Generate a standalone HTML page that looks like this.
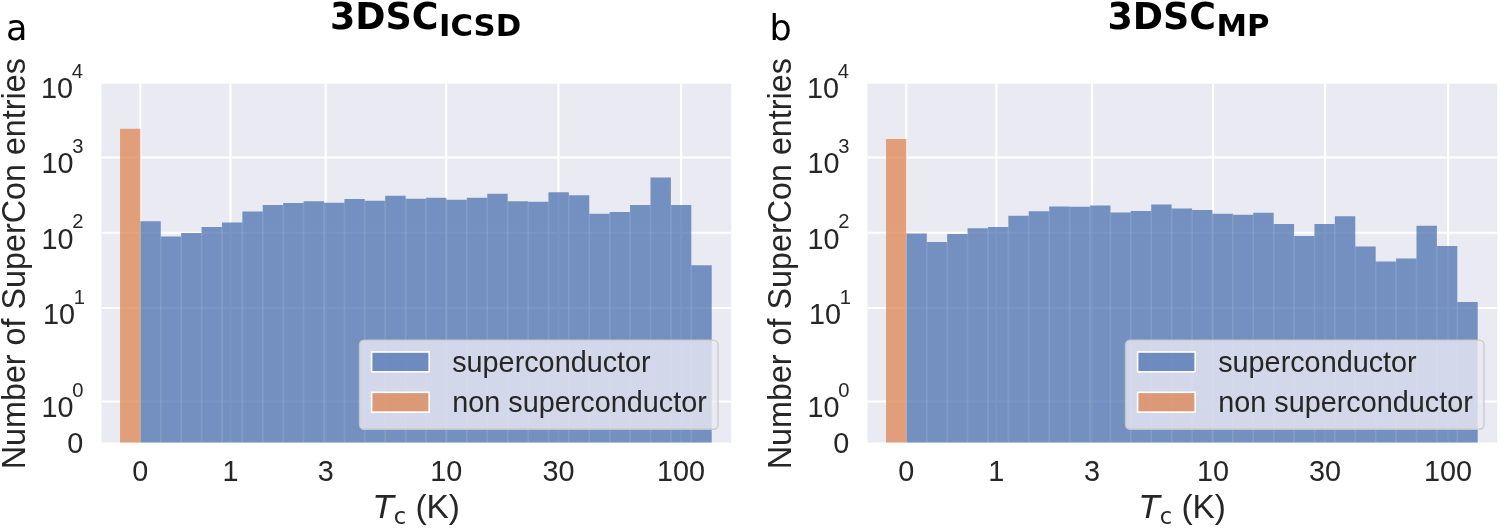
<!DOCTYPE html>
<html lang="en">
<head>
<meta charset="utf-8">
<title>3DSC Tc histograms</title>
<style>
html,body{margin:0;padding:0;background:#ffffff;}
body{width:1500px;height:528px;overflow:hidden;}
svg{display:block;}
text{white-space:pre;}
</style>
</head>
<body>
<svg width="1500" height="528" viewBox="0 0 1500 528">
<defs><clipPath id="axclip"><rect x="101.5" y="83.75" width="629.75" height="358.75"/></clipPath></defs>
<rect width="1500" height="528" fill="#ffffff"/>
<g transform="translate(0,0)">
<rect x="101.5" y="83.75" width="629.75" height="358.75" fill="#eaeaf2"/>
<g stroke="#ffffff" stroke-width="2.1" clip-path="url(#axclip)">
<line x1="140.3" x2="140.3" y1="83.75" y2="442.5"/>
<line x1="230.45" x2="230.45" y1="83.75" y2="442.5"/>
<line x1="325.7" x2="325.7" y1="83.75" y2="442.5"/>
<line x1="446.2" x2="446.2" y1="83.75" y2="442.5"/>
<line x1="558.5" x2="558.5" y1="83.75" y2="442.5"/>
<line x1="681.1" x2="681.1" y1="83.75" y2="442.5"/>
<line x1="101.5" x2="731.25" y1="157.5" y2="157.5"/>
<line x1="101.5" x2="731.25" y1="232.75" y2="232.75"/>
<line x1="101.5" x2="731.25" y1="308" y2="308"/>
<line x1="101.5" x2="731.25" y1="401.5" y2="401.5"/>
<line x1="101.5" x2="731.25" y1="82.25" y2="82.25"/>
</g>
<polygon points="140.35,442.5 140.35,221.25 160.76,221.25 160.76,236.5 181.16,236.5 181.16,233 201.57,233 201.57,227 221.97,227 221.97,222.5 242.38,222.5 242.38,211.5 262.78,211.5 262.78,205 283.19,205 283.19,203 303.59,203 303.59,201.25 324.00,201.25 324.00,202.75 344.41,202.75 344.41,199 364.81,199 364.81,200.75 385.22,200.75 385.22,195.75 405.62,195.75 405.62,198.75 426.03,198.75 426.03,197.75 446.43,197.75 446.43,199.75 466.84,199.75 466.84,197.75 487.24,197.75 487.24,193.75 507.65,193.75 507.65,201.25 528.06,201.25 528.06,201.75 548.46,201.75 548.46,192.25 568.87,192.25 568.87,195.25 589.27,195.25 589.27,213.75 609.68,213.75 609.68,212 630.08,212 630.08,205 650.49,205 650.49,177.5 670.89,177.5 670.89,205 691.30,205 691.30,265.25 711.71,265.25 711.71,442.5" fill="#4c72b0" fill-opacity="0.75"/>
<g stroke="#ffffff" stroke-opacity="0.11" stroke-width="1.6">
<line x1="160.76" x2="160.76" y1="236.5" y2="442.5"/>
<line x1="181.16" x2="181.16" y1="236.5" y2="442.5"/>
<line x1="201.57" x2="201.57" y1="233" y2="442.5"/>
<line x1="221.97" x2="221.97" y1="227" y2="442.5"/>
<line x1="242.38" x2="242.38" y1="222.5" y2="442.5"/>
<line x1="262.78" x2="262.78" y1="211.5" y2="442.5"/>
<line x1="283.19" x2="283.19" y1="205" y2="442.5"/>
<line x1="303.59" x2="303.59" y1="203" y2="442.5"/>
<line x1="324.00" x2="324.00" y1="202.75" y2="442.5"/>
<line x1="344.41" x2="344.41" y1="202.75" y2="442.5"/>
<line x1="364.81" x2="364.81" y1="200.75" y2="442.5"/>
<line x1="385.22" x2="385.22" y1="200.75" y2="442.5"/>
<line x1="405.62" x2="405.62" y1="198.75" y2="442.5"/>
<line x1="426.03" x2="426.03" y1="198.75" y2="442.5"/>
<line x1="446.43" x2="446.43" y1="199.75" y2="442.5"/>
<line x1="466.84" x2="466.84" y1="199.75" y2="442.5"/>
<line x1="487.24" x2="487.24" y1="197.75" y2="442.5"/>
<line x1="507.65" x2="507.65" y1="201.25" y2="442.5"/>
<line x1="528.06" x2="528.06" y1="201.75" y2="442.5"/>
<line x1="548.46" x2="548.46" y1="201.75" y2="442.5"/>
<line x1="568.87" x2="568.87" y1="195.25" y2="442.5"/>
<line x1="589.27" x2="589.27" y1="213.75" y2="442.5"/>
<line x1="609.68" x2="609.68" y1="213.75" y2="442.5"/>
<line x1="630.08" x2="630.08" y1="212" y2="442.5"/>
<line x1="650.49" x2="650.49" y1="205" y2="442.5"/>
<line x1="670.89" x2="670.89" y1="205" y2="442.5"/>
<line x1="691.30" x2="691.30" y1="265.25" y2="442.5"/>
</g>
<rect x="120.04" y="128.75" width="20.306" height="313.75" fill="#dd8452" fill-opacity="0.75"/>
<rect x="359.5" y="340.1" width="358.5" height="89.2" rx="4.5" ry="4.5" fill="#eaeaf2" fill-opacity="0.8" stroke="#c8c8c8" stroke-opacity="0.9" stroke-width="1.4"/>
<rect x="371.6" y="352.0" width="57.6" height="19.8" fill="#4c72b0" fill-opacity="0.75" stroke="#ffffff" stroke-width="1.6"/>
<rect x="371.6" y="392.3" width="57.6" height="19.8" fill="#dd8452" fill-opacity="0.75" stroke="#ffffff" stroke-width="1.6"/>
<g font-family='"Liberation Sans", Arial, sans-serif' font-size="28.8" fill="#262626">
<text x="452.2" y="371.9">superconductor</text>
<text x="452.2" y="412.3">non superconductor</text>
<text x="140.3" y="481" text-anchor="middle">0</text>
<text x="230.45" y="481" text-anchor="middle">1</text>
<text x="325.7" y="481" text-anchor="middle">3</text>
<text x="446.2" y="481" text-anchor="middle">10</text>
<text x="558.5" y="481" text-anchor="middle">30</text>
<text x="681.1" y="481" text-anchor="middle">100</text>
<text x="41" y="98.15">10<tspan font-size="20.16" dy="-20.3" dx="-1.3">4</tspan></text>
<text x="41.4" y="173.4">10<tspan font-size="20.16" dy="-20.3" dx="-1.3">3</tspan></text>
<text x="41.4" y="248.65">10<tspan font-size="20.16" dy="-20.3" dx="-1.3">2</tspan></text>
<text x="43.0" y="323.9">10<tspan font-size="20.16" dy="-20.3" dx="-1.3">1</tspan></text>
<text x="41.6" y="417.4">10<tspan font-size="20.16" dy="-20.3" dx="-1.3">0</tspan></text>
<text x="83.3" y="452.8" text-anchor="end">0</text>
</g>
<text transform="translate(25,263.7) rotate(-90)" text-anchor="middle" font-family='"Liberation Sans", Arial, sans-serif' font-size="32.3" fill="#262626">Number of SuperCon entries</text>
<text x="374" y="518.4" font-family='"DejaVu Sans", sans-serif' font-size="32.3" fill="#262626"><tspan font-style="italic">T</tspan><tspan font-size="22.61" dy="5.6" dx="0">c</tspan><tspan dy="-5.6" dx="0" font-size="33.4" font-family='"Liberation Sans", Arial, sans-serif'> (K)</tspan></text>
<text x="330" y="28.8" font-family='"DejaVu Sans", sans-serif' font-weight="bold" font-size="36.4" fill="#000000">3DSC<tspan font-size="30.7" dy="7.0" dx="0.6">ICSD</tspan></text>
<text x="6" y="40" font-family='"DejaVu Sans", sans-serif' font-size="35" fill="#000000">a</text>
</g>
<g transform="translate(766.0,0)">
<rect x="101.5" y="83.75" width="629.75" height="358.75" fill="#eaeaf2"/>
<g stroke="#ffffff" stroke-width="2.1" clip-path="url(#axclip)">
<line x1="140.2" x2="140.2" y1="83.75" y2="442.5"/>
<line x1="230.35" x2="230.35" y1="83.75" y2="442.5"/>
<line x1="326" x2="326" y1="83.75" y2="442.5"/>
<line x1="447" x2="447" y1="83.75" y2="442.5"/>
<line x1="559.1" x2="559.1" y1="83.75" y2="442.5"/>
<line x1="682.1" x2="682.1" y1="83.75" y2="442.5"/>
<line x1="101.5" x2="731.25" y1="157.5" y2="157.5"/>
<line x1="101.5" x2="731.25" y1="232.75" y2="232.75"/>
<line x1="101.5" x2="731.25" y1="308" y2="308"/>
<line x1="101.5" x2="731.25" y1="401.5" y2="401.5"/>
<line x1="101.5" x2="731.25" y1="82.25" y2="82.25"/>
</g>
<polygon points="140.35,442.5 140.35,233.5 160.76,233.5 160.76,242 181.16,242 181.16,234 201.57,234 201.57,228.25 221.97,228.25 221.97,227 242.38,227 242.38,215.75 262.78,215.75 262.78,211.25 283.19,211.25 283.19,206.5 303.59,206.5 303.59,206.75 324.00,206.75 324.00,205.5 344.41,205.5 344.41,212.5 364.81,212.5 364.81,211 385.22,211 385.22,204.5 405.62,204.5 405.62,208.5 426.03,208.5 426.03,210 446.43,210 446.43,213.75 466.84,213.75 466.84,214.75 487.24,214.75 487.24,212.75 507.65,212.75 507.65,224 528.06,224 528.06,236 548.46,236 548.46,224 568.87,224 568.87,216.25 589.27,216.25 589.27,246.5 609.68,246.5 609.68,261.5 630.08,261.5 630.08,258.5 650.49,258.5 650.49,225.75 670.89,225.75 670.89,246 691.30,246 691.30,302 711.71,302 711.71,442.5" fill="#4c72b0" fill-opacity="0.75"/>
<g stroke="#ffffff" stroke-opacity="0.11" stroke-width="1.6">
<line x1="160.76" x2="160.76" y1="242" y2="442.5"/>
<line x1="181.16" x2="181.16" y1="242" y2="442.5"/>
<line x1="201.57" x2="201.57" y1="234" y2="442.5"/>
<line x1="221.97" x2="221.97" y1="228.25" y2="442.5"/>
<line x1="242.38" x2="242.38" y1="227" y2="442.5"/>
<line x1="262.78" x2="262.78" y1="215.75" y2="442.5"/>
<line x1="283.19" x2="283.19" y1="211.25" y2="442.5"/>
<line x1="303.59" x2="303.59" y1="206.75" y2="442.5"/>
<line x1="324.00" x2="324.00" y1="206.75" y2="442.5"/>
<line x1="344.41" x2="344.41" y1="212.5" y2="442.5"/>
<line x1="364.81" x2="364.81" y1="212.5" y2="442.5"/>
<line x1="385.22" x2="385.22" y1="211" y2="442.5"/>
<line x1="405.62" x2="405.62" y1="208.5" y2="442.5"/>
<line x1="426.03" x2="426.03" y1="210" y2="442.5"/>
<line x1="446.43" x2="446.43" y1="213.75" y2="442.5"/>
<line x1="466.84" x2="466.84" y1="214.75" y2="442.5"/>
<line x1="487.24" x2="487.24" y1="214.75" y2="442.5"/>
<line x1="507.65" x2="507.65" y1="224" y2="442.5"/>
<line x1="528.06" x2="528.06" y1="236" y2="442.5"/>
<line x1="548.46" x2="548.46" y1="236" y2="442.5"/>
<line x1="568.87" x2="568.87" y1="224" y2="442.5"/>
<line x1="589.27" x2="589.27" y1="246.5" y2="442.5"/>
<line x1="609.68" x2="609.68" y1="261.5" y2="442.5"/>
<line x1="630.08" x2="630.08" y1="261.5" y2="442.5"/>
<line x1="650.49" x2="650.49" y1="258.5" y2="442.5"/>
<line x1="670.89" x2="670.89" y1="246" y2="442.5"/>
<line x1="691.30" x2="691.30" y1="302" y2="442.5"/>
</g>
<rect x="120.04" y="139.0" width="20.306" height="303.5" fill="#dd8452" fill-opacity="0.75"/>
<rect x="359.5" y="340.1" width="358.5" height="89.2" rx="4.5" ry="4.5" fill="#eaeaf2" fill-opacity="0.8" stroke="#c8c8c8" stroke-opacity="0.9" stroke-width="1.4"/>
<rect x="371.6" y="352.0" width="57.6" height="19.8" fill="#4c72b0" fill-opacity="0.75" stroke="#ffffff" stroke-width="1.6"/>
<rect x="371.6" y="392.3" width="57.6" height="19.8" fill="#dd8452" fill-opacity="0.75" stroke="#ffffff" stroke-width="1.6"/>
<g font-family='"Liberation Sans", Arial, sans-serif' font-size="28.8" fill="#262626">
<text x="452.2" y="371.9">superconductor</text>
<text x="452.2" y="412.3">non superconductor</text>
<text x="140.2" y="481" text-anchor="middle">0</text>
<text x="230.35" y="481" text-anchor="middle">1</text>
<text x="326" y="481" text-anchor="middle">3</text>
<text x="447" y="481" text-anchor="middle">10</text>
<text x="559.1" y="481" text-anchor="middle">30</text>
<text x="682.1" y="481" text-anchor="middle">100</text>
<text x="41" y="98.15">10<tspan font-size="20.16" dy="-20.3" dx="-1.3">4</tspan></text>
<text x="41.4" y="173.4">10<tspan font-size="20.16" dy="-20.3" dx="-1.3">3</tspan></text>
<text x="41.4" y="248.65">10<tspan font-size="20.16" dy="-20.3" dx="-1.3">2</tspan></text>
<text x="43.0" y="323.9">10<tspan font-size="20.16" dy="-20.3" dx="-1.3">1</tspan></text>
<text x="41.6" y="417.4">10<tspan font-size="20.16" dy="-20.3" dx="-1.3">0</tspan></text>
<text x="83.3" y="452.8" text-anchor="end">0</text>
</g>
<text transform="translate(25,263.7) rotate(-90)" text-anchor="middle" font-family='"Liberation Sans", Arial, sans-serif' font-size="32.3" fill="#262626">Number of SuperCon entries</text>
<text x="374" y="518.4" font-family='"DejaVu Sans", sans-serif' font-size="32.3" fill="#262626"><tspan font-style="italic">T</tspan><tspan font-size="22.61" dy="5.6" dx="0">c</tspan><tspan dy="-5.6" dx="0" font-size="33.4" font-family='"Liberation Sans", Arial, sans-serif'> (K)</tspan></text>
<text x="341.5" y="28.8" font-family='"DejaVu Sans", sans-serif' font-weight="bold" font-size="36.4" fill="#000000">3DSC<tspan font-size="30.7" dy="7.0" dx="0.6">MP</tspan></text>
<text x="3.5" y="40" font-family='"DejaVu Sans", sans-serif' font-size="35" fill="#000000">b</text>
</g>
</svg>
</body>
</html>
